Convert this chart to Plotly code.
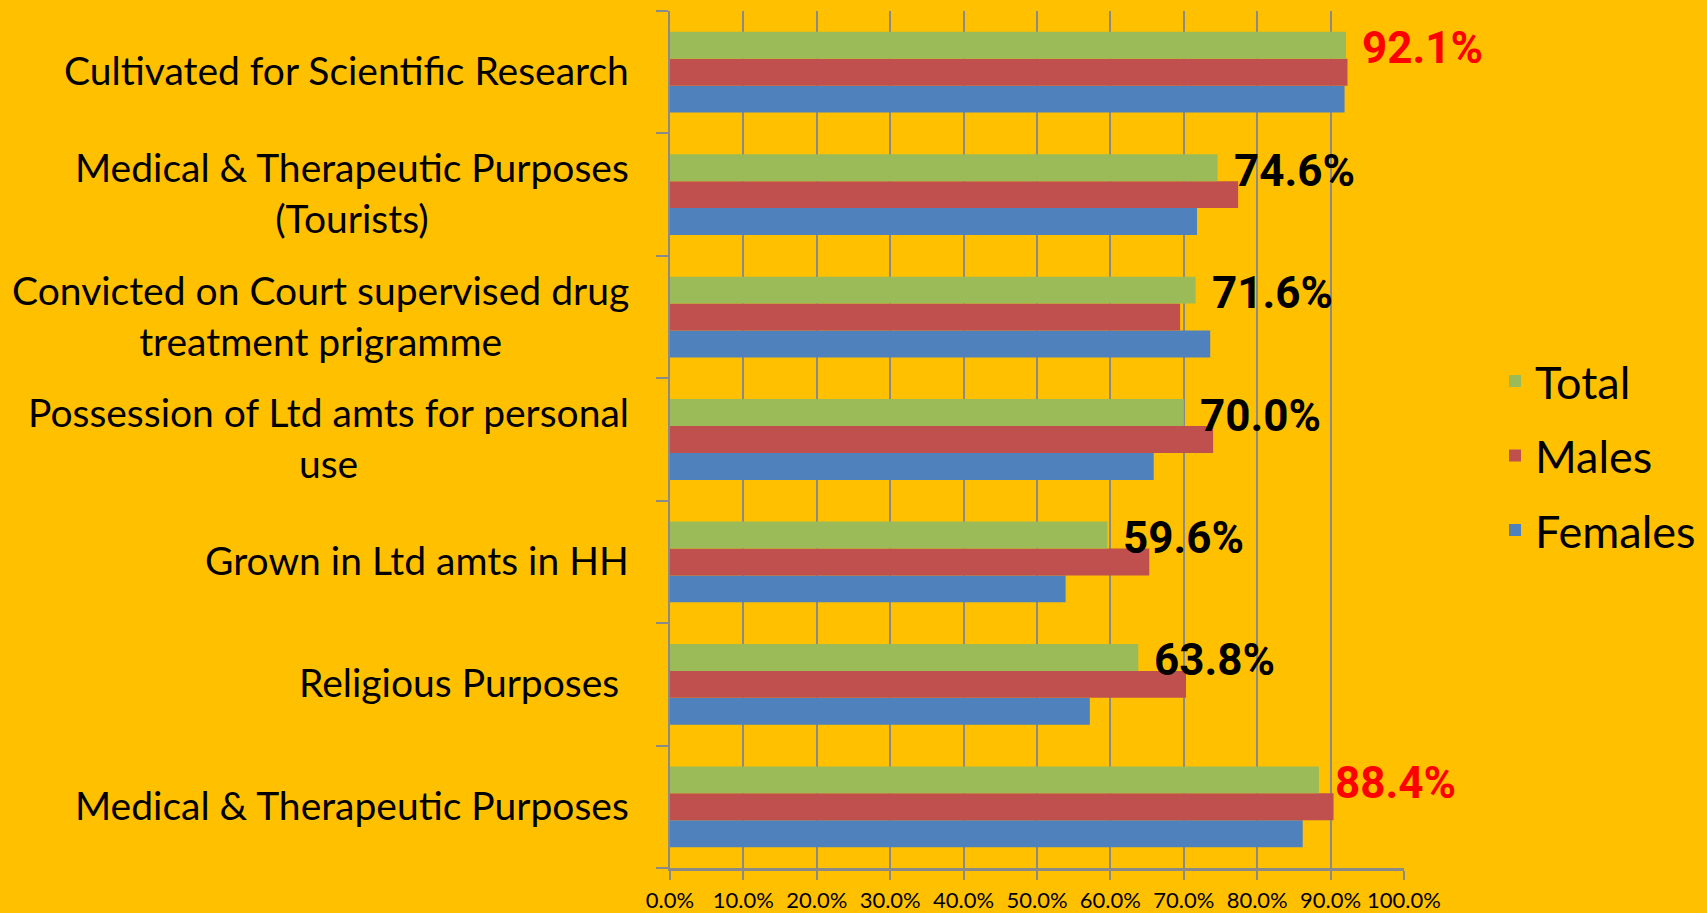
import plotly.graph_objects as go

categories = [
    "Medical & Therapeutic Purposes",
    "Religious Purposes\u00a0",
    "Grown in Ltd amts in HH",
    "Possession of Ltd amts for personal<br>use",
    "Convicted on Court supervised drug<br>treatment prigramme",
    "Medical & Therapeutic Purposes<br>(Tourists)",
    "Cultivated for Scientific Research",
]
total = [88.4, 63.8, 59.6, 70.0, 71.6, 74.6, 92.1]
males = [90.4, 70.3, 65.3, 74.0, 69.5, 77.4, 92.3]
females = [86.2, 57.2, 53.9, 65.9, 73.6, 71.8, 91.9]
tick_vals = [i / 10 for i in range(11)]

BG = "#FFC000"
GRID = "#8A8A8A"
FONT = "Lato, 'Open Sans', sans-serif"
BOLD_FONT = "Roboto, 'Liberation Sans', sans-serif"

fig = go.Figure()
series = [("Females", females, "#4F81BD", 3), ("Males", males, "#C0504D", 2), ("Total", total, "#9BBB59", 1)]
for name, vals, col, rank in series:
    fig.add_trace(go.Bar(
        y=categories, x=[v / 100 for v in vals], name=name, orientation="h",
        marker=dict(color=col, line=dict(width=0)), legendgroup=name, legendrank=rank,
    ))

annotations = []
for cat, v in zip(categories, total):
    annotations.append(dict(
        x=v / 100, y=cat, xref="x", yref="y", text=f"<b>{v:.1f}%</b>",
        showarrow=False, xanchor="left", yanchor="middle", xshift=14, yshift=24,
        font=dict(family=BOLD_FONT, size=44, color="#FF0000" if v >= 80 else "#000000"),
    ))
for cat in categories:
    annotations.append(dict(
        x=0, y=cat, xref="paper", yref="y", text=cat, showarrow=False,
        xanchor="right", yanchor="middle", xshift=-39, yshift=2, align="center",
        font=dict(family=FONT, size=39, color="#000000"),
    ))

fig.update_layout(
    width=1707, height=913,
    paper_bgcolor=BG, plot_bgcolor=BG,
    barmode="group", bargap=0.34, bargroupgap=0,
    margin=dict(l=670, r=303, t=11, b=45, autoexpand=False),
    annotations=annotations,
    showlegend=True,
    legend=dict(
        traceorder="grouped", x=1.124, xanchor="left", y=0.481, yanchor="middle",
        font=dict(family=FONT, size=45, color="#000000"), tracegroupgap=13,
        bgcolor="rgba(0,0,0,0)",
    ),
    xaxis=dict(
        range=[0, 1], tickvals=tick_vals, tickformat=".1%", tickangle=0,
        showgrid=True, gridcolor=GRID, gridwidth=1.5,
        showline=True, linecolor=GRID, linewidth=2.5,
        ticks="outside", ticklen=9, tickcolor=GRID, tickwidth=1.5,
        tickfont=dict(family=FONT, size=22, color="#000000"),
        zeroline=False, fixedrange=True, ticklabelstandoff=2, automargin=False,
    ),
    yaxis=dict(
        categoryorder="array", categoryarray=categories,
        showticklabels=False, showgrid=False, zeroline=False,
        showline=True, linecolor=GRID, linewidth=1.5,
        ticks="outside", ticklen=12, tickcolor=GRID, tickwidth=1.5,
        tickson="boundaries", fixedrange=True, automargin=False,
    ),
)

fig.write_html(
    "out.html",
    config={"displayModeBar": False},
    post_script="document.body.style.margin='0';document.body.style.background='" + BG + "';",
)
